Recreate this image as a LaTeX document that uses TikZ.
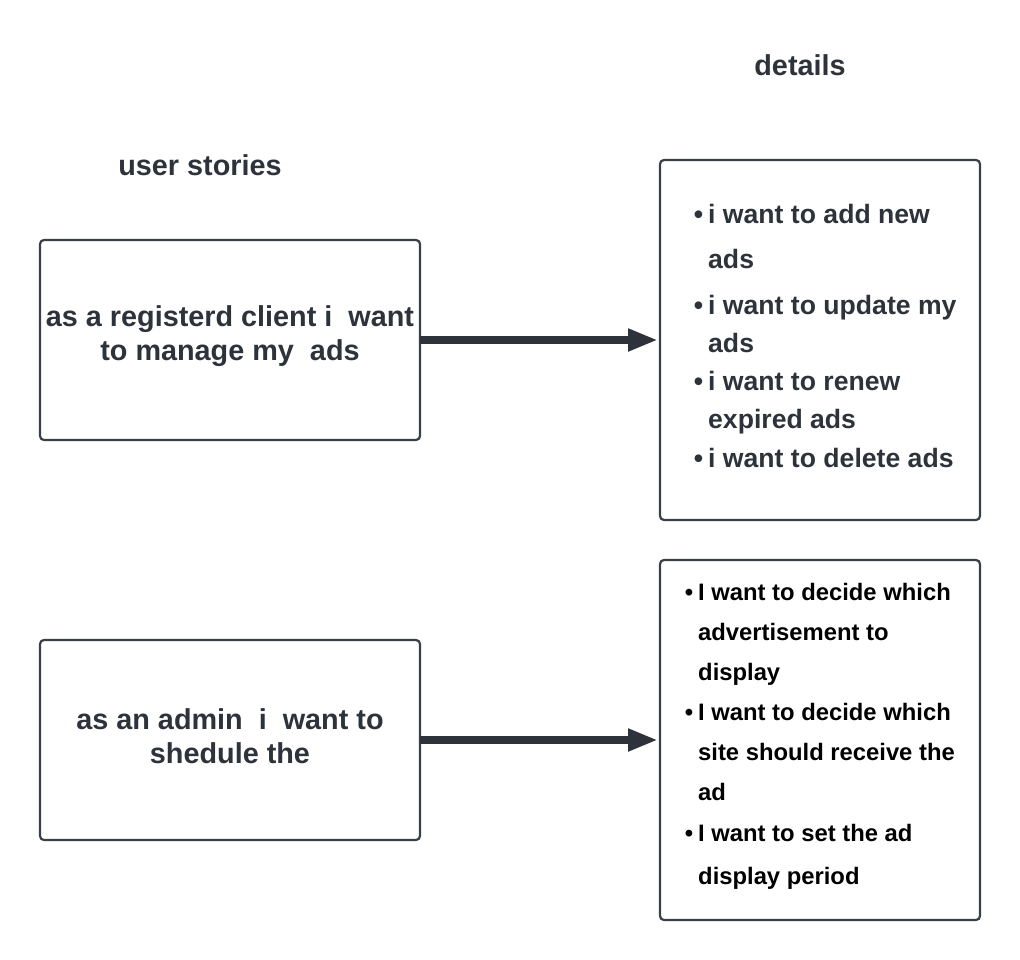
\documentclass[tikz,border=0pt]{standalone}
\usepackage{fontspec}
\setmainfont{Liberation Sans}
\usetikzlibrary{arrows.meta}
\definecolor{ink}{HTML}{2E323B}
\definecolor{frame}{HTML}{3A3F48}
\newcommand{\itemdot}{\llap{\textbullet\hspace{5pt}}}
\tikzset{
  storybox/.style={draw=frame, line width=2.2pt, rounded corners=4pt},
  headtext/.style={text=ink, font=\bfseries\fontsize{28.8}{32}\selectfont},
  storytext/.style={text=ink, font=\bfseries\fontsize{28.8}{34}\selectfont, align=center},
  itemtext/.style={text=ink, font=\bfseries\fontsize{26.6}{30}\selectfont, anchor=base west, inner sep=0pt},
  admintext/.style={text=black, font=\bfseries\fontsize{23.8}{28}\selectfont, anchor=base west, inner sep=0pt},
  link/.style={draw=ink, line width=7.5pt, -{Triangle[length=30pt, width=21pt]}}
}
\begin{document}
\begin{tikzpicture}[x=1pt, y=-1pt]
\useasboundingbox (0,0) rectangle (1020,960);

\node[headtext] (userhead) at (200,165) {user stories};
\node[headtext] (detailhead) at (800,65) {details};

\draw[storybox] (40,240) rectangle (420,440);
\draw[storybox] (40,640) rectangle (420,840);
\draw[storybox] (660,160) rectangle (980,520);
\draw[storybox] (660,560) rectangle (980,920);

\node[storytext] (client) at (230,336) {as a registerd client i\ \ want\\to manage my\ \ ads};
\node[storytext] (admin) at (230,736) {as an admin\ \ i\ \ want to\\shedule the};

\coordinate (clientout) at (420,340);
\coordinate (clientin) at (658,340);
\coordinate (adminout) at (420,740);
\coordinate (adminin) at (658,740);

% client details
\node[itemtext] (c1) at (708,224) {\itemdot i want to add new};
\node[itemtext] (c1b) at (708,269) {ads};
\node[itemtext] (c2) at (708,314) {\itemdot i want to update my};
\node[itemtext] (c2b) at (708,352) {ads};
\node[itemtext] (c3) at (708,390) {\itemdot i want to renew};
\node[itemtext] (c3b) at (708,428) {expired ads};
\node[itemtext] (c4) at (708,467) {\itemdot i want to delete ads};

% admin details
\node[admintext] (a1) at (698,600) {\itemdot I want to decide which};
\node[admintext] (a1b) at (698,640) {advertisement to};
\node[admintext] (a1c) at (698,680) {display};
\node[admintext] (a2) at (698,720) {\itemdot I want to decide which};
\node[admintext] (a2b) at (698,760) {site should receive the};
\node[admintext] (a2c) at (698,800) {ad};
\node[admintext] (a3) at (698,841) {\itemdot I want to set the ad};
\node[admintext] (a3b) at (698,884) {display period};

\draw[link] (clientout) -- (clientin);
\draw[link] (adminout) -- (adminin);
\end{tikzpicture}
\end{document}
